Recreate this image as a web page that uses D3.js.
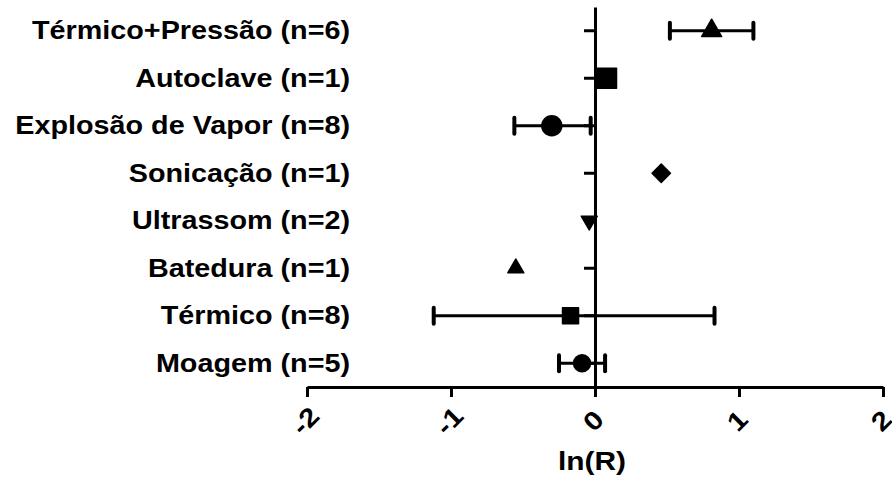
<!DOCTYPE html>
<html>
<head>
<meta charset="utf-8">
<script src="https://cdn.jsdelivr.net/npm/d3@7"></script>
<style>
  body { margin: 0; background: #fff; }
  text { font-family: "Liberation Sans", Arial, sans-serif; font-weight: bold; fill: #000; }
</style>
</head>
<body>
<div id="graf"></div>
<script>
// dados
const categorias = ['Térmico+Pressão (n=6)', 'Autoclave (n=1)', 'Explosão de Vapor (n=8)', 'Sonicação (n=1)',
  'Ultrassom (n=2)', 'Batedura (n=1)', 'Térmico (n=8)', 'Moagem (n=5)']
const medias = [0.81, 0.08, -0.30, 0.46, -0.04, -0.55, -0.17, -0.09]
const limInf = [0.52, null, -0.56, null, null, null, -1.12, -0.25]
const limSup = [1.10, null, -0.03, null, null, null, 0.83, 0.07]
const simbolos = ['triangle', 'square', 'circle', 'diamond', 'triangleDown', 'triangle', 'square', 'circle']
const tamanhos = [20, 20, 20, 13, 16, 16, 16, 17]
const xTicks = [-2, -1, 0, 1, 2]

const ancho = 892
const alto = 481
const estica = 1.15 // texto mais largo, como no original

const svg = d3.select('#graf')
  .append('svg')
  .attr('width', ancho)
  .attr('height', alto)

const x = d3.scaleLinear().domain([-2, 2]).range([307, 883])
const y = d3.scaleBand().domain(categorias).range([7, 387])

// eixo x
const xAxis = d3.axisBottom(x).tickValues(xTicks).tickSize(10).tickSizeOuter(0).tickFormat(d => d)
const gx = svg.append('g')
  .attr('transform', 'translate(0, 387)')
  .call(xAxis)
gx.select('.domain').attr('stroke', '#000').attr('stroke-width', 3)
gx.selectAll('.tick line').attr('stroke', '#000').attr('stroke-width', 3)
gx.selectAll('.tick text')
  .attr('y', 0)
  .attr('dy', 0)
  .attr('font-size', 26)
  .attr('text-anchor', 'middle')
  .attr('dominant-baseline', 'central')
  .attr('transform', `translate(-2, 34) rotate(-45) scale(${estica}, 1)`)

// eixo y no zero
const yAxis = d3.axisLeft(y).tickSize(11).tickSizeOuter(0).tickFormat('')
const gy = svg.append('g')
  .attr('transform', `translate(${x(0)}, 0)`)
  .call(yAxis)
gy.select('.domain').attr('stroke', '#000').attr('stroke-width', 3)
gy.selectAll('.tick line').attr('stroke', '#000').attr('stroke-width', 3)

// rotulos das categorias
svg.append('g')
  .selectAll('text')
  .data(categorias)
  .enter()
  .append('text')
  .attr('transform', d => `translate(350, ${y(d) + y.bandwidth() / 2}) scale(${estica}, 1)`)
  .attr('text-anchor', 'end')
  .attr('dominant-baseline', 'central')
  .attr('font-size', 25)
  .text(d => d)

// titulo eixo x
svg.append('text')
  .attr('transform', `translate(${x(0) - 3}, 461) scale(${estica}, 1)`)
  .attr('text-anchor', 'middle')
  .attr('dominant-baseline', 'central')
  .attr('font-size', 26)
  .text('ln(R)')

// barras de erro
const idx = d3.range(categorias.length).filter(i => limInf[i] !== null)
const erros = svg.append('g')
erros.selectAll('line.bar')
  .data(idx)
  .enter()
  .append('line')
  .attr('class', 'bar')
  .attr('x1', i => x(limInf[i]))
  .attr('x2', i => x(limSup[i]))
  .attr('y1', i => y(categorias[i]) + y.bandwidth() / 2)
  .attr('y2', i => y(categorias[i]) + y.bandwidth() / 2)
  .attr('stroke', '#000')
  .attr('stroke-width', 3)
const caps = idx.flatMap(i => [[i, limInf[i]], [i, limSup[i]]])
erros.selectAll('line.cap')
  .data(caps)
  .enter()
  .append('line')
  .attr('class', 'cap')
  .attr('x1', d => x(d[1]))
  .attr('x2', d => x(d[1]))
  .attr('y1', d => y(categorias[d[0]]) + y.bandwidth() / 2 - 8)
  .attr('y2', d => y(categorias[d[0]]) + y.bandwidth() / 2 + 8)
  .attr('stroke', '#000')
  .attr('stroke-width', 4)
  .attr('stroke-linecap', 'round')

// simbolos
const tipos = {
  triangle: d3.symbolTriangle,
  square: d3.symbolSquare,
  circle: d3.symbolCircle,
  diamond: d3.symbolSquare,
  triangleDown: d3.symbolTriangle
}
svg.append('g')
  .selectAll('path')
  .data(medias)
  .enter()
  .append('path')
  .attr('d', (d, i) => {
    const s = tamanhos[i]
    const area = simbolos[i] === 'circle' ? Math.PI * (s / 2) ** 2
      : (simbolos[i] === 'square' || simbolos[i] === 'diamond') ? s * s
      : s * s * Math.sqrt(3) / 4
    return d3.symbol(tipos[simbolos[i]], area)()
  })
  .attr('transform', (d, i) => {
    const cy = y(categorias[i]) + y.bandwidth() / 2
    const rot = simbolos[i] === 'triangleDown' ? ' rotate(180)'
      : simbolos[i] === 'diamond' ? ' rotate(45)' : ''
    return `translate(${x(d)}, ${cy})${rot}`
  })
  .attr('fill', '#000')
  .attr('stroke', '#000')
  .attr('stroke-width', 1.5)
  .attr('stroke-linejoin', 'round')
</script>
</body>
</html>
